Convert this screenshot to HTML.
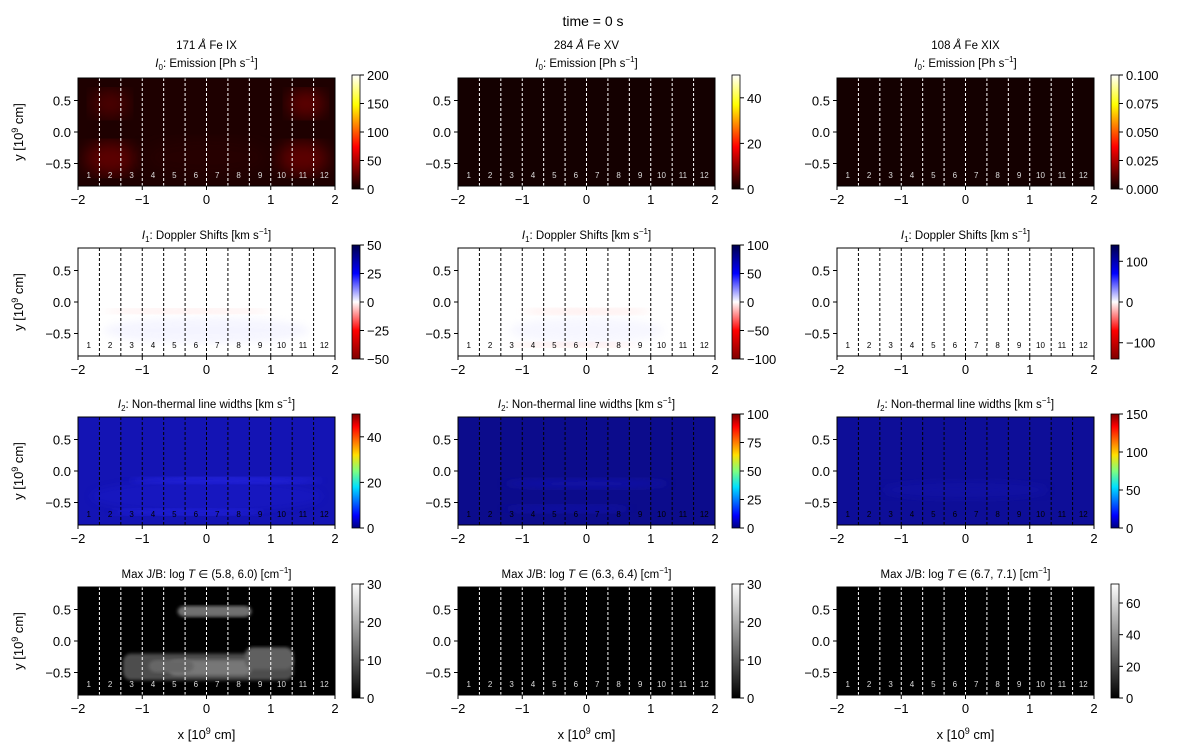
<!DOCTYPE html>
<html><head><meta charset="utf-8"><style>
body{margin:0;background:#fff;}
svg text{font-family:"Liberation Sans","DejaVu Sans",sans-serif;fill:#000;}
</style></head><body>
<svg id="fig" width="1200" height="750" viewBox="0 0 1200 750" xmlns="http://www.w3.org/2000/svg">
<defs>
<linearGradient id="cm-hot" x1="0" y1="1" x2="0" y2="0"><stop offset="0" stop-color="#0b0000"/><stop offset="0.37" stop-color="#ff0000"/><stop offset="0.74" stop-color="#ffff00"/><stop offset="1" stop-color="#ffffff"/></linearGradient>
<linearGradient id="cm-seis" x1="0" y1="1" x2="0" y2="0"><stop offset="0" stop-color="#800000"/><stop offset="0.25" stop-color="#ff0000"/><stop offset="0.5" stop-color="#ffffff"/><stop offset="0.75" stop-color="#0000ff"/><stop offset="1" stop-color="#00004c"/></linearGradient>
<linearGradient id="cm-jet" x1="0" y1="1" x2="0" y2="0"><stop offset="0" stop-color="#00007f"/><stop offset="0.11" stop-color="#0000ff"/><stop offset="0.36" stop-color="#00e0ff"/><stop offset="0.5" stop-color="#7fff7f"/><stop offset="0.64" stop-color="#ffe000"/><stop offset="0.89" stop-color="#ff0000"/><stop offset="1" stop-color="#7f0000"/></linearGradient>
<linearGradient id="cm-gray" x1="0" y1="1" x2="0" y2="0"><stop offset="0" stop-color="#000"/><stop offset="1" stop-color="#fff"/></linearGradient>
<filter id="blur4"><feGaussianBlur stdDeviation="4"/></filter>
<filter id="blur8"><feGaussianBlur stdDeviation="8"/></filter>
<filter id="blur1"><feGaussianBlur stdDeviation="1.5"/></filter>
</defs>
<text x="593" y="26" font-size="14" text-anchor="middle">time = 0 s</text>
</svg>
<script>
const NS="http://www.w3.org/2000/svg";
const svg=document.getElementById('fig');
// layout constants (not data)
const colLeft=[78,458,837], panelW=257, rowTop=[78,248,417,587], panelH=108;
// data
const xTicks=[-2,-1,0,1,2];
const yTicks=[0.5,0.0,-0.5];
const yTickLabels=["0.5","0.0","\u22120.5"];
const xRange=[-2,2], yRange=[-0.857,0.857];
const sliceEdges=[-5/3,-4/3,-1,-2/3,-1/3,0,1/3,2/3,1,4/3,5/3];
const sliceLabels=["1","2","3","4","5","6","7","8","9","10","11","12"];
const lineNames=["171 Å Fe IX","284 Å Fe XV","108 Å Fe XIX"];
const jbTitles=["(5.8, 6.0)","(6.3, 6.4)","(6.7, 7.1)"];
const cbMin=[[0,0,0],[-50,-100,-140],[0,0,0],[0,0,0]];
const cbMax=[[200,50,0.1],[50,100,140],[50,100,150],[30,30,72]];
const cbTicks=[[[0,50,100,150,200],[0,20,40],[0,0.025,0.05,0.075,0.1]],
 [[-50,-25,0,25,50],[-100,-50,0,50,100],[-100,0,100]],
 [[0,20,40],[0,25,50,75,100],[0,50,100,150]],
 [[0,10,20,30],[0,10,20,30],[0,20,40,60]]];
const cmaps=["cm-hot","cm-seis","cm-jet","cm-gray"];
const bgColors=[["#1e0000","#140000","#140000"],["#ffffff","#ffffff","#ffffff"],["#1414b4","#0c0c8c","#0e0e98"],["#000000","#000000","#000000"]];
// blobs: [row,col,cx,cy,rx,ry,color,opacity]
const blobs=[
 [0,0,-1.5,0.45,0.3,0.22,"#6a0000",0.6],[0,0,-1.5,-0.42,0.4,0.26,"#780000",0.7],
 [0,0,1.55,0.45,0.3,0.22,"#7a0000",0.7],[0,0,1.5,-0.42,0.4,0.26,"#780000",0.7],
 [0,0,0,-0.4,1.0,0.3,"#2e0000",0.5],
 [1,0,-0.3,-0.15,1.3,0.04,"#ffd0d0",0.5],[1,0,0,-0.45,1.6,0.2,"#e6e6ff",0.4],
 [1,1,0,-0.15,1.0,0.05,"#ffd4d4",0.5],[1,1,0,-0.45,1.2,0.2,"#eaeaff",0.4],[1,1,-0.2,-0.68,1.0,0.04,"#ffd0d0",0.5],
 [2,0,0.3,-0.15,1.5,0.05,"#3030ff",0.7],[2,0,-0.3,-0.65,1.2,0.05,"#2a2af0",0.7],[2,0,0,-0.4,1.8,0.25,"#1c1cd0",0.4],
 [2,1,0,-0.2,1.3,0.08,"#1414b8",0.6],[2,1,-0.3,-0.6,1.0,0.06,"#1414b8",0.6],
 [2,2,0,-0.3,1.3,0.15,"#1414b0",0.4]
];
// gray patches for J/B: [row,col,x0,x1,y0,y1,gray]
const patches=[
 [3,0,-0.45,0.7,0.38,0.56,"#707070"],
 [3,0,-1.3,1.35,-0.62,-0.2,"#4e4e4e"],[3,0,-0.6,0.7,-0.55,-0.3,"#777777"],
 [3,0,0.6,1.35,-0.45,-0.1,"#606060"],[3,0,-0.9,-0.2,-0.5,-0.3,"#666666"]
];
function el(tag,attrs,parent){const e=document.createElementNS(NS,tag);for(const k in attrs)e.setAttribute(k,attrs[k]);(parent||svg).appendChild(e);return e;}
function sx(c,v){return colLeft[c]+(v-xRange[0])/(xRange[1]-xRange[0])*panelW;}
function sy(r,v){return rowTop[r]+(yRange[1]-v)/(yRange[1]-yRange[0])*panelH;}
function fmtCb(r,c,v){if(r===0&&c===2)return v.toFixed(3);return v<0?"\u2212"+Math.abs(v):String(v);}
for(let r=0;r<4;r++){for(let c=0;c<3;c++){
 const g=el('g',{});
 
 
 const cid='clip'+r+c;
 const cp=el('clipPath',{id:cid},g);el('rect',{x:colLeft[c],y:rowTop[r],width:panelW,height:panelH},cp);
 const bg=el('rect',{x:colLeft[c],y:rowTop[r],width:panelW,height:panelH,fill:bgColors[r][c]},g);
 
 
 const hg=el('g',{'clip-path':'url(#'+cid+')'},g);
 blobs.filter(b=>b[0]===r&&b[1]===c).forEach(b=>{
  const rx=b[4]/4*panelW, ry=b[5]/(yRange[1]-yRange[0])*panelH;
  const e=el('ellipse',{cx:sx(c,b[2]),cy:sy(r,b[3]),rx:rx,ry:ry,fill:b[6],opacity:b[7],filter:(r===0?'url(#blur8)':'url(#blur4)')},hg);
  
  
 });
 patches.filter(p=>p[0]===r&&p[1]===c).forEach(p=>{
  const e=el('rect',{x:sx(c,p[2]),y:sy(r,p[5]),width:sx(c,p[3])-sx(c,p[2]),height:sy(r,p[4])-sy(r,p[5]),rx:8,fill:p[6],filter:'url(#blur1)'},hg);
  
  
 });
 const dashCol=(r===1||r===2)?'#000':'#fff';
 sliceEdges.forEach(v=>{
  const l=el('line',{x1:sx(c,v),x2:sx(c,v),y1:rowTop[r],y2:rowTop[r]+panelH,stroke:dashCol,'stroke-width':1,'stroke-dasharray':'3,2'},g);
  
  
 });
 sliceLabels.forEach((s,i)=>{
  const cx=-2+(i+0.5)*(4/12);
  const t=el('text',{x:sx(c,cx),y:rowTop[r]+panelH-8,'font-size':8,'text-anchor':'middle'},g);
  t.style.fill=(r===1||r===2)?'#000':'#ddd';
  t.textContent=s;
  
  
 });
 const fr=el('rect',{x:colLeft[c],y:rowTop[r],width:panelW,height:panelH,fill:'none',stroke:'#000','stroke-width':1},g);
 
 
 xTicks.forEach(v=>{
  el('line',{x1:sx(c,v),x2:sx(c,v),y1:rowTop[r]+panelH,y2:rowTop[r]+panelH+4,stroke:'#000'},g);
  const t=el('text',{x:sx(c,v),y:rowTop[r]+panelH+18,'font-size':13,'text-anchor':'middle'},g);
  t.textContent=v<0?"\u2212"+Math.abs(v):String(v);
  
  
 });
 yTicks.forEach((v,i)=>{
  el('line',{x1:colLeft[c]-4,x2:colLeft[c],y1:sy(r,v),y2:sy(r,v),stroke:'#000'},g);
  const t=el('text',{x:colLeft[c]-7,y:sy(r,v)+5,'font-size':13,'text-anchor':'end'},g);
  t.textContent=yTickLabels[i];
  
  
 });
 const cx=colLeft[c]+panelW/2;
 let title;
 if(r===0){
  const t1=el('text',{x:cx,y:49,'font-size':11.5,'text-anchor':'middle'},g);
  t1.innerHTML=lineNames[c].replace('Å','<tspan font-style="italic">Å</tspan>');
  
  
  title=el('text',{x:cx,y:67,'font-size':11.5,'text-anchor':'middle'},g);
  title.innerHTML='<tspan font-style="italic">I</tspan><tspan font-size="8" dy="3">0</tspan><tspan dy="-3">: Emission [Ph s</tspan><tspan font-size="8" dy="-5">\u22121</tspan><tspan dy="5">]</tspan>';
 }else if(r===1){
  title=el('text',{x:cx,y:rowTop[r]-9,'font-size':11.5,'text-anchor':'middle'},g);
  title.innerHTML='<tspan font-style="italic">I</tspan><tspan font-size="8" dy="3">1</tspan><tspan dy="-3">: Doppler Shifts [km s</tspan><tspan font-size="8" dy="-5">\u22121</tspan><tspan dy="5">]</tspan>';
 }else if(r===2){
  title=el('text',{x:cx,y:rowTop[r]-9,'font-size':11.5,'text-anchor':'middle'},g);
  title.innerHTML='<tspan font-style="italic">I</tspan><tspan font-size="8" dy="3">2</tspan><tspan dy="-3">: Non-thermal line widths [km s</tspan><tspan font-size="8" dy="-5">\u22121</tspan><tspan dy="5">]</tspan>';
 }else{
  title=el('text',{x:cx,y:rowTop[r]-9,'font-size':11.5,'text-anchor':'middle'},g);
  title.innerHTML='Max J/B: log <tspan font-style="italic">T</tspan> \u2208 '+jbTitles[c]+' [cm<tspan font-size="8" dy="-5">\u22121</tspan><tspan dy="5">]</tspan>';
 }
 
 
 const cbx=colLeft[c]+panelW+17, cby=rowTop[r]-3, cbh=panelH+6, cbw=8;
 const cb=el('g',{},g);
 
 
 el('rect',{x:cbx,y:cby,width:cbw,height:cbh,fill:'url(#'+cmaps[r]+')',stroke:'#000','stroke-width':0.8},cb);
 const lo=cbMin[r][c],hi=cbMax[r][c];
 cbTicks[r][c].forEach(v=>{
  const yy=cby+cbh-(v-lo)/(hi-lo)*cbh;
  el('line',{x1:cbx+cbw,x2:cbx+cbw+4,y1:yy,y2:yy,stroke:'#000'},cb);
  const t=el('text',{x:cbx+cbw+7,y:yy+5,'font-size':13},cb);
  t.textContent=fmtCb(r,c,v);
  
  
 });
}
 const yl=el('text',{x:0,y:0,'font-size':13,'text-anchor':'middle',transform:'translate(23,'+(rowTop[r]+panelH/2)+') rotate(-90)'});
 yl.innerHTML='y [10<tspan font-size="9" dy="-5">9</tspan><tspan dy="5"> cm]</tspan>';
 
 
}
for(let c=0;c<3;c++){
 const xl=el('text',{x:colLeft[c]+panelW/2,y:739,'font-size':13,'text-anchor':'middle'});
 xl.innerHTML='x [10<tspan font-size="9" dy="-5">9</tspan><tspan dy="5"> cm]</tspan>';
 
 
}
</script>
</body></html>
